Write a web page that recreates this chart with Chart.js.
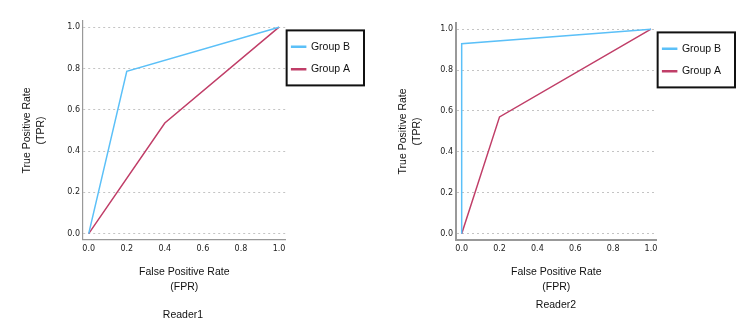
<!DOCTYPE html>
<html>
<head>
<meta charset="utf-8">
<script src="https://cdn.jsdelivr.net/npm/chart.js@4/dist/chart.umd.min.js"></script>
<style>
  html, body { margin: 0; padding: 0; background: #fff; }
  #wrap { position: relative; width: 750px; height: 327px; }
  .panel { position: absolute; top: 0; width: 375px; height: 327px; }
</style>
</head>
<body>
<div id="wrap">
  <div class="panel" style="left:0"><canvas id="reader1" width="375" height="327"></canvas></div>
  <div class="panel" style="left:375px"><canvas id="reader2" width="375" height="327"></canvas></div>
</div>
<script>
// ====== Data ======
const axisTicks = [0, 0.2, 0.4, 0.6, 0.8, 1.0];

const reader1GroupBFpr = [0, 0.2, 1];
const reader1GroupBTpr = [0, 0.786, 1];
const reader1GroupAFpr = [0, 0.4, 1];
const reader1GroupATpr = [0, 0.536, 1];

const reader2GroupBFpr = [0, 0, 1];
const reader2GroupBTpr = [0, 0.929, 1];
const reader2GroupAFpr = [0, 0.2, 1];
const reader2GroupATpr = [0, 0.571, 1];

const blue = "#5bc0f8";
const red = "#c03e68";
const labelFont = { family: "'Liberation Sans', Arial, sans-serif", size: 10.5, lineHeight: 1.35, weight: "normal" };
const tickFont = { family: "'DejaVu Sans', sans-serif", size: 8 };

function toPoints(xs, ys) {
  return xs.map((x, i) => ({ x: x, y: ys[i] }));
}

// nudges legend items left and draws the black frame round the legend
const legendFrame = {
  id: "legendFrame",
  afterLayout(chart) {
    const lg = chart.legend;
    lg._frameLeft = lg.left;
    lg._frameRight = lg.right;
    lg.left -= 6;
    lg.right -= 6;
  },
  afterDraw(chart) {
    const lg = chart.legend;
    const boxes = lg.legendHitBoxes;
    if (!boxes || !boxes.length) return;
    const last = boxes[boxes.length - 1];
    const top = boxes[0].top - 11;
    const bottom = last.top + last.height + 11;
    const left = lg._frameLeft + 1;
    const right = lg._frameRight - 2;
    const ctx = chart.ctx;
    ctx.save();
    ctx.strokeStyle = "#111";
    ctx.lineWidth = 2;
    ctx.strokeRect(left, top, right - left, bottom - top);
    ctx.restore();
  }
};

function makeChart(id, title, groupB, groupA, layout) {
  const ctx = document.getElementById(id).getContext("2d");
  return new Chart(ctx, {
    type: "scatter",
    data: {
      datasets: [
        { label: "Group B", data: groupB, showLine: true, borderColor: blue, backgroundColor: blue,
          borderWidth: 1.5, pointRadius: 0, tension: 0 },
        { label: "Group A", data: groupA, showLine: true, borderColor: red, backgroundColor: red,
          borderWidth: 1.5, pointRadius: 0, tension: 0 }
      ]
    },
    options: {
      responsive: false,
      animation: false,
      layout: { padding: { top: layout.top, right: layout.right, bottom: 0, left: 0 } },
      plugins: {
        legend: {
          position: "right",
          align: "start",
          title: { display: true, text: "", font: { size: 7 }, padding: 0 },
          labels: {
            font: labelFont, color: "#111", boxWidth: 14, boxHeight: 1, padding: 12
          }
        },
        title: {
          display: true, position: "bottom", text: title, color: "#111", font: labelFont,
          padding: { top: layout.titleTop, bottom: layout.titleBottom }
        },
        tooltip: { enabled: false }
      },
      scales: {
        x: {
          type: "linear", min: -0.03, max: layout.xMax,
          afterBuildTicks: s => { s.ticks = axisTicks.map(v => ({ value: v })); },
          afterFit: s => { s.height = 54; },
          grid: { display: false, drawTicks: false },
          border: { color: "#999", width: layout.axisWidth },
          ticks: { font: tickFont, color: "#222", padding: 4, callback: v => v.toFixed(1) },
          title: { display: true, text: ["False Positive Rate", "(FPR)"], color: "#111", font: labelFont,
            padding: { top: 0, bottom: 0 } }
        },
        y: {
          type: "linear", min: -0.03, max: 1.03,
          afterBuildTicks: s => { s.ticks = axisTicks.map(v => ({ value: v })); },
          afterFit: s => { s.width = layout.yWidth; },
          grid: { color: "#c4c4c4", drawTicks: false, lineWidth: 1 },
          border: { color: "#999", width: layout.axisWidth, dash: [2, 3] },
          ticks: { font: tickFont, color: "#222", padding: 3, callback: v => v.toFixed(1) },
          title: { display: true, text: ["True Positive Rate", "(TPR)"], color: "#111", font: labelFont,
            padding: { top: layout.yTitlePad, bottom: 0 } }
        }
      }
    },
    plugins: [legendFrame]
  });
}

makeChart("reader1", "Reader1",
  toPoints(reader1GroupBFpr, reader1GroupBTpr),
  toPoints(reader1GroupAFpr, reader1GroupATpr),
  { top: 21, right: 9, titleTop: 14, titleBottom: 5, xMax: 1.035, yWidth: 83, yTitlePad: 20, axisWidth: 1.2 });

makeChart("reader2", "Reader2",
  toPoints(reader2GroupBFpr, reader2GroupBTpr),
  toPoints(reader2GroupAFpr, reader2GroupATpr),
  { top: 23, right: 13, titleTop: 4, titleBottom: 15, xMax: 1.03, yWidth: 81, yTitlePad: 21, axisWidth: 2 });
</script>
</body>
</html>
